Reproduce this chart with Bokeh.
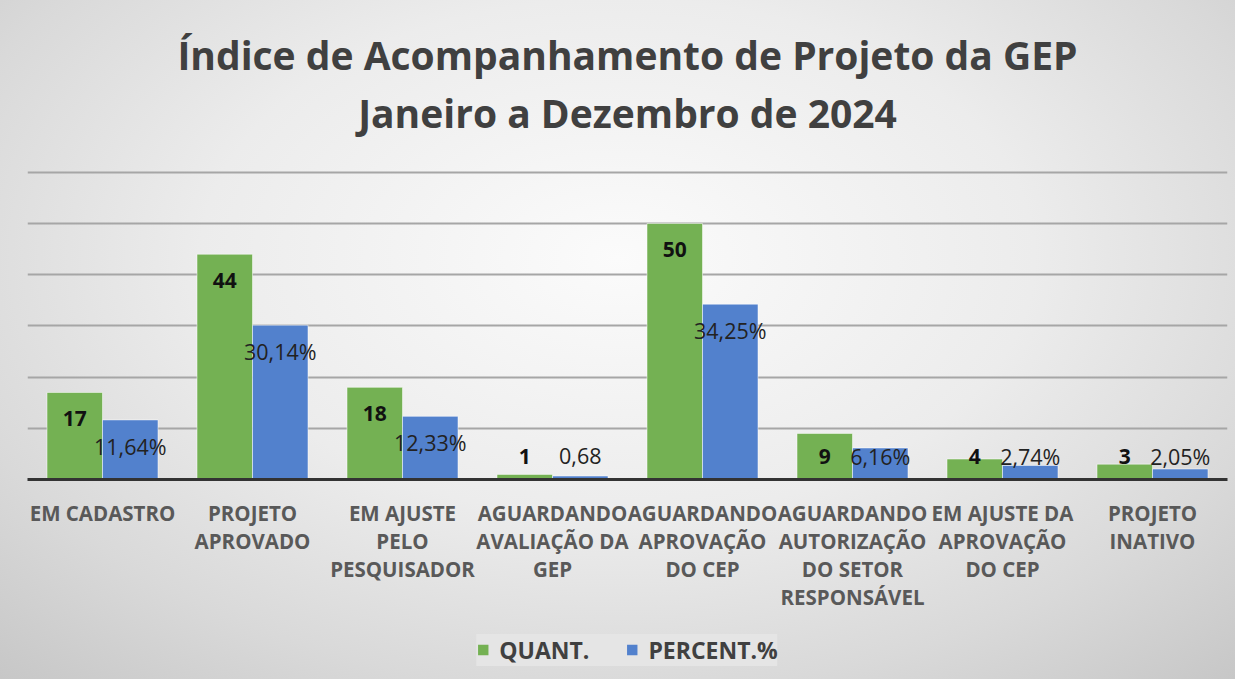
from bokeh.plotting import figure
from bokeh.layouts import column
from bokeh.models import (ColumnDataSource, FactorRange, FixedTicker, Legend,
                          LegendItem, Label, InlineStyleSheet)
from bokeh.transform import dodge
from bokeh.core.properties import value
from bokeh.embed import file_html
from bokeh.resources import INLINE

categories = [
    "EM CADASTRO",
    "PROJETO\nAPROVADO",
    "EM AJUSTE\nPELO\nPESQUISADOR",
    "AGUARDANDO\nAVALIAÇÃO DA\nGEP",
    "AGUARDANDO\nAPROVAÇÃO\nDO CEP",
    "AGUARDANDO\nAUTORIZAÇÃO\nDO SETOR\nRESPONSÁVEL",
    "EM AJUSTE DA\nAPROVAÇÃO\nDO CEP",
    "PROJETO\nINATIVO",
]
quant = [17, 44, 18, 1, 50, 9, 4, 3]
percent = [11.64, 30.14, 12.33, 0.68, 34.25, 6.16, 2.74, 2.05]
quant_labels = ["17", "44", "18", "1", "50", "9", "4", "3"]
percent_labels = ["11,64%", "30,14%", "12,33%", "0,68", "34,25%", "6,16%", "2,74%", "2,05%"]
grid_ticks = [0, 10, 20, 30, 40, 50, 60]
series_names = ["QUANT.", "PERCENT.%"]
title_lines = ["Índice de Acompanhamento de Projeto da GEP", "Janeiro a Dezembro de 2024"]

GREEN = "#74b153"
BLUE = "#5281cd"
FONT = "Open Sans"
W = 1235


def bare(fig):
    fig.border_fill_alpha = 0
    fig.background_fill_alpha = 0
    fig.outline_line_color = None
    fig.axis.visible = False
    fig.grid.visible = False


# ---------- title ----------
tp = figure(width=W, height=169, x_range=(0, 1), y_range=(0, 1),
            output_backend="svg", toolbar_location=None, title=None,
            min_border=0)
bare(tp)
for txt, yy in zip(title_lines, (0.68, 0.337)):
    tp.add_layout(Label(x=0.5, y=yy, text=txt, text_align="center",
                        text_baseline="middle", text_font=FONT,
                        text_font_style="bold", text_font_size="39px",
                        text_color="#404040"))

# ---------- main chart ----------
quant_ly = [max(v - 5.1, 4.5) for v in quant]
percent_ly = [max(v - 5.1, 4.5) for v in percent]

src = ColumnDataSource(dict(cat=categories, quant=quant, percent=percent,
                            ql=quant_labels, pl=percent_labels,
                            qy=quant_ly, py=percent_ly))

p = figure(x_range=FactorRange(*categories), y_range=(0, 60.55),
           width=W, height=451, output_backend="svg",
           toolbar_location=None, title=None,
           min_border_left=27, min_border_right=8,
           min_border_bottom=141, min_border_top=0)
p.border_fill_alpha = 0
p.background_fill_alpha = 0
p.outline_line_color = None

r1 = p.vbar(x=dodge("cat", -0.185, range=p.x_range), top="quant", width=0.37,
            source=src, fill_color=GREEN, line_color="#ffffff", line_alpha=0.5)
r2 = p.vbar(x=dodge("cat", 0.185, range=p.x_range), top="percent", width=0.37,
            source=src, fill_color=BLUE, line_color="#ffffff", line_alpha=0.5)

p.text(x=dodge("cat", -0.185, range=p.x_range), y="qy", text="ql", source=src,
       text_align="center", text_baseline="middle", text_font=value(FONT),
       text_font_style="bold", text_font_size="21px", text_color="#111111")
p.text(x=dodge("cat", 0.185, range=p.x_range), y="py", text="pl", source=src,
       text_align="center", text_baseline="middle", text_font=value(FONT),
       text_font_size="21.5px", text_color="#222222")

p.yaxis.visible = False
p.ygrid.ticker = FixedTicker(ticks=grid_ticks)
p.ygrid.grid_line_color = "#a6a6a6"
p.ygrid.grid_line_width = 2
p.xgrid.grid_line_color = None

ax = p.xaxis[0]
ax.axis_line_color = "#333333"
ax.axis_line_width = 3
ax.major_tick_line_color = None
ax.minor_tick_line_color = None
ax.major_label_standoff = 13
ax.major_label_text_font = FONT
ax.major_label_text_font_style = "bold"
ax.major_label_text_font_size = "20.5px"
ax.major_label_text_color = "#595959"
ax.major_label_text_line_height = 1.0
ax.major_label_orientation = "horizontal"

# ---------- legend (separate strip; its series renderers sit outside the view) ----------
lp = figure(width=W, height=59, x_range=FactorRange(*categories),
            y_range=(1000, 1001), output_backend="svg",
            toolbar_location=None, title=None, min_border=0)
bare(lp)
l1 = lp.vbar(x=dodge("cat", -0.185, range=lp.x_range), top="quant", width=0.37,
             source=src, fill_color=GREEN, line_color=None)
l2 = lp.vbar(x=dodge("cat", 0.185, range=lp.x_range), top="percent", width=0.37,
             source=src, fill_color=BLUE, line_color=None)
legend = Legend(items=[LegendItem(label=series_names[0], renderers=[l1]),
                       LegendItem(label=series_names[1], renderers=[l2])],
                orientation="horizontal", location="center",
                glyph_width=13, glyph_height=13, label_standoff=10, spacing=36,
                padding=12, margin=0, label_height=26,
                label_text_font=FONT, label_text_font_style="bold",
                label_text_font_size="23px", label_text_color="#404040",
                background_fill_color="#e6e6e6", background_fill_alpha=0.9,
                border_line_color=None)
lp.add_layout(legend)

layout = column(tp, p, lp, spacing=0, stylesheets=[InlineStyleSheet(css=(
    ":host { background: radial-gradient(ellipse 75% 85% at 50% 38%, "
    "#fbfbfb 0%, #ececec 45%, #d9d9d9 75%, #c6c6c6 100%); }"))])

open("out.html", "w").write(file_html(layout, INLINE))
